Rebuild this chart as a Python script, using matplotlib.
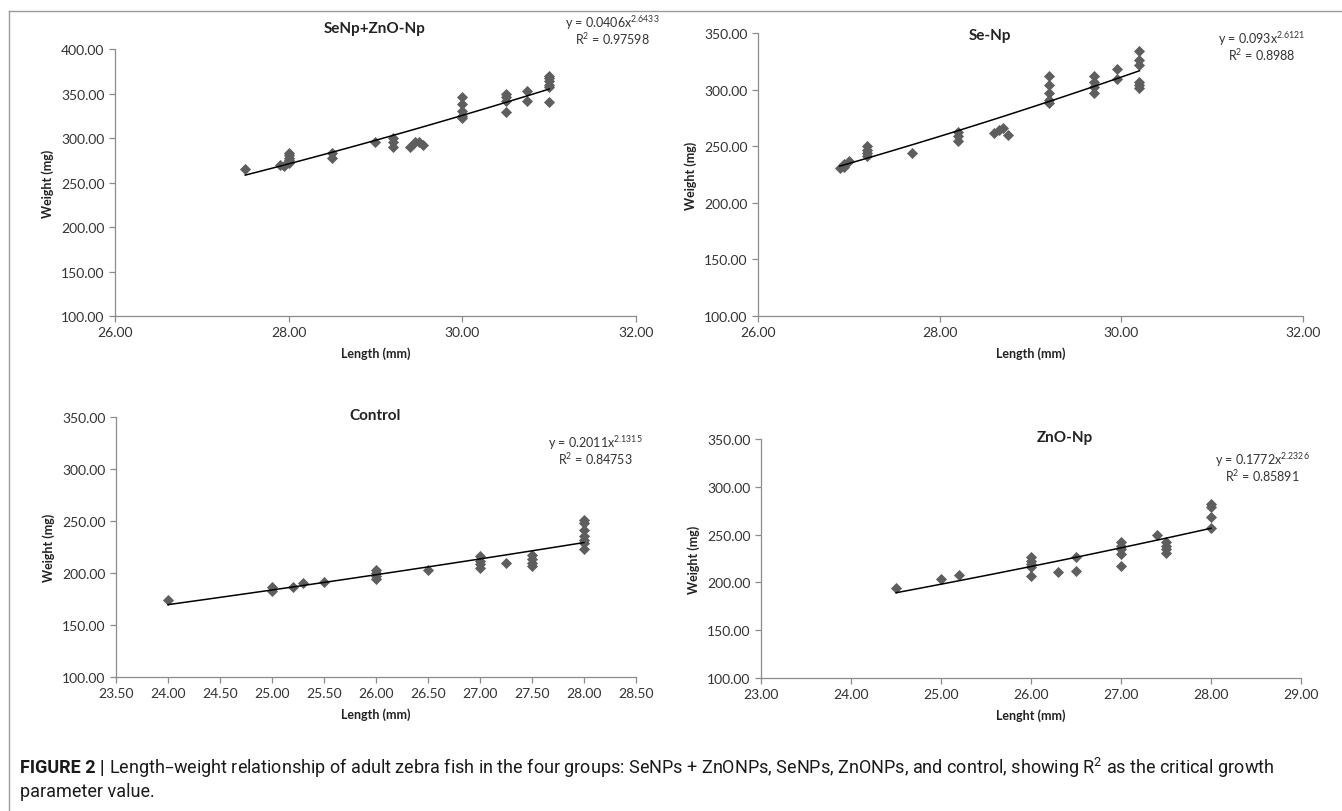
import numpy as np
import matplotlib
matplotlib.use('Agg')
import matplotlib.pyplot as plt
from matplotlib.lines import Line2D
from matplotlib.text import Annotation
from matplotlib.ticker import FormatStrFormatter

plt.rcParams['font.family'] = ['Lato', 'DejaVu Sans']
plt.rcParams['mathtext.default'] = 'regular'

# SeNp+ZnO-Np
len_sz = [27.5, 27.9, 27.95, 28.0, 28.0, 28.0, 28.0, 28.0, 28.5, 28.5, 29.0, 29.2, 29.2, 29.2,
          29.4, 29.45, 29.5, 29.55, 30.0, 30.0, 30.0, 30.0, 30.0, 30.5, 30.5, 30.5, 30.5,
          30.75, 30.75, 31.0, 31.0, 31.0, 31.0, 31.0, 31.0]
wt_sz = [265, 270, 268, 272, 275, 278, 281, 283, 283, 277, 295, 300, 295, 290,
         290, 295, 296, 292, 346, 338, 330, 325, 322, 349, 346, 342, 329,
         353, 342, 370, 367, 364, 360, 357, 341]

# Se-Np
len_se = [26.9, 26.95, 27.0, 26.95, 27.2, 27.2, 27.2, 27.2, 27.7, 28.2, 28.2, 28.2,
          28.6, 28.65, 28.7, 28.75, 29.2, 29.2, 29.2, 29.2, 29.2, 29.7, 29.7, 29.7, 29.7,
          29.95, 29.95, 30.2, 30.2, 30.2, 30.2, 30.2, 30.2]
wt_se = [231, 234, 237, 232, 250, 247, 244, 241, 244, 263, 259, 255,
         262, 264, 266, 260, 312, 304, 297, 291, 288, 312, 307, 302, 297,
         318, 309, 334, 326, 322, 307, 304, 301]

# Control
len_ct = [24.0, 25.0, 25.0, 25.2, 25.3, 25.5, 26.0, 26.0, 26.0, 26.0, 26.5,
          27.0, 27.0, 27.0, 27.0, 27.25, 27.5, 27.5, 27.5, 27.5,
          28.0, 28.0, 28.0, 28.0, 28.0, 28.0, 28.0]
wt_ct = [174, 187, 183, 187, 190, 191, 203, 200, 197, 194, 203,
         216, 212, 209, 205, 210, 217, 213, 210, 207,
         251, 248, 241, 236, 232, 229, 223]

# ZnO-Np
len_zn = [24.5, 25.0, 25.2, 26.0, 26.0, 26.0, 26.0, 26.0, 26.3, 26.5, 26.5,
          27.0, 27.0, 27.0, 27.0, 27.0, 27.4, 27.5, 27.5, 27.5, 27.5,
          28.0, 28.0, 28.0, 28.0]
wt_zn = [194, 204, 208, 227, 222, 219, 216, 207, 211, 227, 212,
         242, 238, 235, 230, 217, 250, 242, 238, 235, 231,
         282, 279, 268, 257]

panels = [
    # title, x, y, rect, xticks, yticks, coef, exponent, r2, xlabel
    ('SeNp+ZnO-Np', len_sz, wt_sz, [0.0857, 0.6096, 0.3882, 0.3288],
     [26, 28, 30, 32], np.arange(100, 401, 50), '0.0406', '2.6433', '0.97598', 'Length (mm)'),
    ('Se-Np', len_se, wt_se, [0.5648, 0.6096, 0.4061, 0.3485],
     [26, 28, 30, 32], np.arange(100, 351, 50), '0.093', '2.6121', '0.8988', 'Length (mm)'),
    ('Control', len_ct, wt_ct, [0.0864, 0.1650, 0.3875, 0.3202],
     np.arange(23.5, 28.51, 0.5), np.arange(100, 351, 50), '0.2011', '2.1315', '0.84753', 'Length (mm)'),
    ('ZnO-Np', len_zn, wt_zn, [0.5671, 0.1638, 0.4024, 0.2943],
     np.arange(23, 29.01, 1), np.arange(100, 351, 50), '0.1772', '2.2326', '0.85891', 'Lenght (mm)'),
]

# title and equation positions in pixels (x, y from top)
title_px = [(375, 29), (990, 36), (375, 416), (1065, 438)]
eq_px = [(612, 23), (1262, 39), (595, 443), (1262, 460)]

W, H = 1342, 812
fig = plt.figure(figsize=(13.42, 8.12), dpi=100)

for (title, xs, ys, rect, xt, yt, a, b, r2, xl), tp, ep in zip(panels, title_px, eq_px):
    ax = fig.add_axes(rect)
    ax.scatter(xs, ys, marker='D', s=32, color='#5e5e5e', zorder=3, linewidths=0)
    # power trend line (least squares on log-log)
    k, c = np.polyfit(np.log(xs), np.log(ys), 1)
    xx = np.linspace(min(xs), max(xs), 100)
    ax.plot(xx, np.exp(c) * xx ** k, color='black', lw=1.1, zorder=4)

    ax.set_xlim(xt[0], xt[-1])
    ax.set_ylim(yt[0], yt[-1])
    ax.set_xticks(xt)
    ax.set_yticks(yt)
    ax.xaxis.set_major_formatter(FormatStrFormatter('%.2f'))
    ax.yaxis.set_major_formatter(FormatStrFormatter('%.2f'))
    for s in ['top', 'right']:
        ax.spines[s].set_visible(False)
    for s in ['left', 'bottom']:
        ax.spines[s].set_color('#8c8c8c')
        ax.spines[s].set_linewidth(0.9)
    ax.tick_params(axis='both', colors='#8c8c8c', labelcolor='#333333', labelsize=10,
                   length=4, width=0.9, direction='out')
    ax.set_xlabel(xl, fontsize=9, fontweight='bold', labelpad=6, color='#222222')
    ax.set_ylabel('Weight (mg)', fontsize=9, fontweight='bold', labelpad=5, color='#222222')

    fig.text(tp[0] / W, 1 - tp[1] / H, title, ha='center', va='center',
             fontsize=11, fontweight='bold', color='#222222')
    fig.text(ep[0] / W, 1 - ep[1] / H, 'y = %sx$^{%s}$' % (a, b), ha='center', va='center',
             fontsize=9, color='#333333')
    fig.text(ep[0] / W, 1 - (ep[1] + 16) / H, 'R$^2$ = %s' % r2, ha='center', va='center',
             fontsize=9, color='#333333')

# outer frame
fig.add_artist(Line2D([9 / W, 9 / W], [0, 1 - 12 / H], transform=fig.transFigure,
                      color='#9a9a9a', lw=1))
fig.add_artist(Line2D([9 / W, 1], [1 - 12 / H, 1 - 12 / H], transform=fig.transFigure,
                      color='#9a9a9a', lw=1))

cap_font = ['Roboto', 'DejaVu Sans']
t1 = fig.text(20 / W, 1 - 768 / H, 'FIGURE 2 |', fontsize=13, fontweight='bold',
              family=cap_font, va='center', color='#1a1a1a')
cap = Annotation('Length\u2013weight relationship of adult zebra fish in the four groups: '
                 'SeNPs + ZnONPs, SeNPs, ZnONPs, and control, showing R$^2$ as the critical growth',
                 xy=(1, 0.5), xycoords=t1, xytext=(3, 0), textcoords='offset points',
                 va='center', fontsize=13, family=cap_font, color='#1a1a1a')
fig.add_artist(cap)
fig.text(20 / W, 1 - 792 / H, 'parameter value.', fontsize=13, family=cap_font,
         va='center', color='#1a1a1a')

fig.savefig('out.png', dpi=100)
